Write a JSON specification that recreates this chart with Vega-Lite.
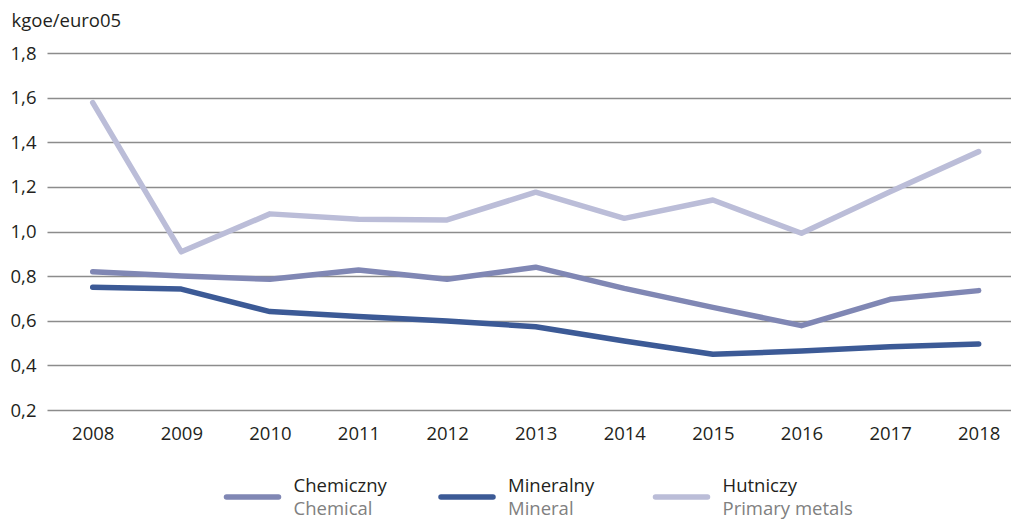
{
  "$schema": "https://vega.github.io/schema/vega-lite/v6.json",
  "padding": {"left": 10, "top": 11, "right": 0, "bottom": 0},
  "background": "white",
  "config": {
    "view": {"stroke": null},
    "font": "Open Sans",
    "axis": {"labelFont": "Open Sans", "titleFont": "Open Sans"}
  },
  "spacing": 32,
  "vconcat": [
    {
      "width": 964,
      "height": 357,
      "data": {
        "values": [
          {"year": 2008, "series": "Chemiczny", "value": 0.820},
          {"year": 2009, "series": "Chemiczny", "value": 0.801},
          {"year": 2010, "series": "Chemiczny", "value": 0.786},
          {"year": 2011, "series": "Chemiczny", "value": 0.827},
          {"year": 2012, "series": "Chemiczny", "value": 0.786},
          {"year": 2013, "series": "Chemiczny", "value": 0.840},
          {"year": 2014, "series": "Chemiczny", "value": 0.745},
          {"year": 2015, "series": "Chemiczny", "value": 0.660},
          {"year": 2016, "series": "Chemiczny", "value": 0.578},
          {"year": 2017, "series": "Chemiczny", "value": 0.696},
          {"year": 2018, "series": "Chemiczny", "value": 0.735},
          {"year": 2008, "series": "Mineralny", "value": 0.750},
          {"year": 2009, "series": "Mineralny", "value": 0.742},
          {"year": 2010, "series": "Mineralny", "value": 0.641},
          {"year": 2011, "series": "Mineralny", "value": 0.619},
          {"year": 2012, "series": "Mineralny", "value": 0.599},
          {"year": 2013, "series": "Mineralny", "value": 0.573},
          {"year": 2014, "series": "Mineralny", "value": 0.509},
          {"year": 2015, "series": "Mineralny", "value": 0.450},
          {"year": 2016, "series": "Mineralny", "value": 0.464},
          {"year": 2017, "series": "Mineralny", "value": 0.484},
          {"year": 2018, "series": "Mineralny", "value": 0.496},
          {"year": 2008, "series": "Hutniczy", "value": 1.578},
          {"year": 2009, "series": "Hutniczy", "value": 0.909},
          {"year": 2010, "series": "Hutniczy", "value": 1.079},
          {"year": 2011, "series": "Hutniczy", "value": 1.055},
          {"year": 2012, "series": "Hutniczy", "value": 1.052},
          {"year": 2013, "series": "Hutniczy", "value": 1.176},
          {"year": 2014, "series": "Hutniczy", "value": 1.059},
          {"year": 2015, "series": "Hutniczy", "value": 1.141},
          {"year": 2016, "series": "Hutniczy", "value": 0.992},
          {"year": 2017, "series": "Hutniczy", "value": 1.178},
          {"year": 2018, "series": "Hutniczy", "value": 1.358}
        ]
      },
      "mark": {"type": "line", "strokeWidth": 5.5, "strokeCap": "round", "strokeJoin": "round"},
      "encoding": {
        "x": {
          "field": "year",
          "type": "quantitative",
          "scale": {"domain": [2007.484, 2018.365], "nice": false, "zero": false},
          "axis": {
            "values": [2008, 2009, 2010, 2011, 2012, 2013, 2014, 2015, 2016, 2017, 2018],
            "format": "d",
            "title": null,
            "grid": false,
            "domain": false,
            "ticks": false,
            "labelFontSize": 18.5,
            "labelColor": "#231f20",
            "labelPadding": 14,
            "labelFlush": false
          }
        },
        "y": {
          "field": "value",
          "type": "quantitative",
          "scale": {"domain": [0.2, 1.8], "nice": false, "zero": false},
          "axis": {
            "values": [0.2, 0.4, 0.6, 0.8, 1.0, 1.2, 1.4, 1.6, 1.8],
            "labelExpr": "replace(format(datum.value, '.1f'), '.', ',')",
            "title": "kgoe/euro05",
            "titleAngle": 0,
            "titleAlign": "left",
            "titleBaseline": "alphabetic",
            "titleX": -36,
            "titleY": -27,
            "titleFontSize": 18.5,
            "titleFontWeight": "normal",
            "titleColor": "#231f20",
            "grid": true,
            "gridColor": "#8c8c8c",
            "gridWidth": 1.3,
            "domain": false,
            "ticks": false,
            "labelFontSize": 18.5,
            "labelColor": "#231f20",
            "labelPadding": 11,
            "labelFlush": false
          }
        },
        "color": {
          "field": "series",
          "type": "nominal",
          "scale": {"domain": ["Chemiczny", "Mineralny", "Hutniczy"], "range": ["#8087b4", "#3c5a96", "#bbbdd8"]},
          "legend": null
        }
      }
    },
    {
      "width": 840,
      "height": 44,
      "data": {
        "values": [
          {"series": "Chemiczny", "en": "Chemical"},
          {"series": "Mineralny", "en": "Mineral"},
          {"series": "Hutniczy", "en": "Primary metals"}
        ]
      },
      "encoding": {
        "x": {
          "field": "series",
          "type": "nominal",
          "sort": ["Chemiczny", "Mineralny", "Hutniczy"],
          "scale": {"type": "point", "padding": 0.958},
          "axis": null
        }
      },
      "layer": [
        {
          "mark": {"type": "point", "shape": "stroke", "size": 2704, "strokeWidth": 5.5, "strokeCap": "round", "filled": false, "opacity": 1},
          "encoding": {
            "color": {"field": "series", "type": "nominal", "legend": null}
          }
        },
        {
          "mark": {"type": "text", "align": "left", "baseline": "alphabetic", "dx": 41, "dy": -5, "fontSize": 18.5, "color": "#231f20"},
          "encoding": {"text": {"field": "series"}}
        },
        {
          "mark": {"type": "text", "align": "left", "baseline": "alphabetic", "dx": 41, "dy": 18, "fontSize": 18.5, "color": "#808080"},
          "encoding": {"text": {"field": "en"}}
        }
      ]
    }
  ]
}
